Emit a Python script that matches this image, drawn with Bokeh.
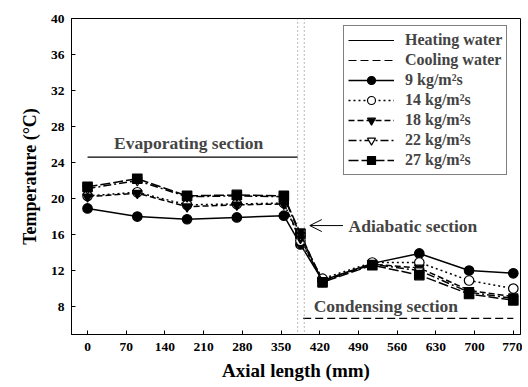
from bokeh.plotting import figure
from bokeh.models import Label, Arrow, OpenHead, Span, Legend, LegendItem, FixedTicker
from bokeh.embed import file_html
from bokeh.resources import INLINE

x = [0, 90, 180, 270, 355, 385, 425, 515, 600, 690, 770]
t9 = [18.9, 18.0, 17.7, 17.9, 18.1, 14.9, 10.9, 12.8, 13.9, 12.0, 11.7]
t14 = [20.3, 20.7, 19.3, 19.4, 19.5, 15.3, 11.1, 12.9, 12.9, 10.9, 10.0]
t18 = [20.2, 20.6, 19.1, 19.3, 19.4, 15.6, 10.8, 12.7, 12.3, 9.8, 9.1]
t22 = [21.1, 22.0, 20.2, 20.3, 20.2, 15.9, 10.9, 12.7, 12.0, 9.6, 8.9]
t27 = [21.3, 22.2, 20.3, 20.4, 20.3, 16.1, 10.7, 12.6, 11.5, 9.4, 8.7]
heat_x = [0, 380]
heat_y = [24.6, 24.6]
cool_x = [390, 770]
cool_y = [6.7, 6.7]
x_ticks = [0, 70, 140, 210, 280, 350, 420, 490, 560, 630, 700, 770]
y_ticks = [8, 12, 16, 20, 24, 28, 32, 36, 40]

FONT = "Liberation Serif"

p = figure(width=522, height=386, x_range=(-29, 783), y_range=(4.9, 40),
           output_backend="svg", toolbar_location=None,
           min_border_left=71, min_border_right=2, min_border_top=18, min_border_bottom=52)
p.grid.visible = False
p.outline_line_color = "black"
p.outline_line_width = 1

for ax in (p.xaxis[0], p.yaxis[0]):
    ax.major_label_text_font = FONT
    ax.major_label_text_font_style = "bold"
    ax.major_label_text_font_size = "13.5px"
    ax.major_label_text_color = "black"
    ax.axis_label_text_font = FONT
    ax.axis_label_text_font_style = "bold"
    ax.axis_label_text_color = "black"
    ax.major_tick_in = 4
    ax.major_tick_out = 0
    ax.minor_tick_line_color = None
    ax.axis_line_color = "black"
    ax.major_tick_line_color = "black"

p.xaxis[0].ticker = FixedTicker(ticks=x_ticks)
p.yaxis[0].ticker = FixedTicker(ticks=y_ticks)
p.xaxis[0].axis_label = "Axial length (mm)"
p.yaxis[0].axis_label = "Temperature (°C)"
p.xaxis[0].axis_label_text_font_size = "19px"
p.yaxis[0].axis_label_text_font_size = "18px"
p.xaxis[0].major_label_standoff = 8
p.yaxis[0].major_label_standoff = 7
p.xaxis[0].axis_label_standoff = 6
p.yaxis[0].axis_label_standoff = 8

# section separators
p.add_layout(Span(location=380, dimension="height", line_color="#777777", line_dash="1 3", line_width=1))
p.add_layout(Span(location=392, dimension="height", line_color="#777777", line_dash="1 3", line_width=1))

rh = p.line(heat_x, heat_y, line_color="black", line_width=1.2)
rc = p.line(cool_x, cool_y, line_color="black", line_width=1.2, line_dash="8 4")

series = [
    ("9 kg/m²s", t9, "solid", "circle", "black"),
    ("14 kg/m²s", t14, "2 3", "circle", "white"),
    ("18 kg/m²s", t18, "6 3", "inverted_triangle", "black"),
    ("22 kg/m²s", t22, "8 3 2 3", "inverted_triangle", "white"),
    ("27 kg/m²s", t27, "10 3", "square", "black"),
]
items = [LegendItem(label="Heating water", renderers=[rh]),
         LegendItem(label="Cooling water", renderers=[rc])]
for lab, ys, dash, mk, fill in series:
    rl = p.line(x, ys, line_color="black", line_width=1.5, line_dash=dash)
    rs = p.scatter(x, ys, marker=mk, size=9.5, line_color="black", fill_color=fill, line_width=1.2)
    items.append(LegendItem(label=lab, renderers=[rl, rs]))

leg = Legend(items=items, location=(272, 159))
leg.label_text_font = FONT
leg.label_text_font_style = "bold"
leg.label_text_font_size = "16px"
leg.label_height = 20
leg.glyph_height = 20
leg.glyph_width = 46
leg.spacing = 0
leg.padding = 4
leg.margin = 0
leg.label_standoff = 11
leg.border_line_color = "black"
leg.border_line_width = 1
p.add_layout(leg, "center")

p.add_layout(Label(x=183, y=26.2, text="Evaporating section", text_font=FONT, text_font_style="bold",
                   text_font_size="17.5px", text_align="center", text_baseline="middle"))
p.add_layout(Label(x=472, y=17.0, text="Adiabatic section", text_font=FONT, text_font_style="bold",
                   text_font_size="17.5px", text_align="left", text_baseline="middle"))
p.add_layout(Label(x=409, y=8.1, text="Condensing section", text_font=FONT, text_font_style="bold",
                   text_font_size="17.5px", text_align="left", text_baseline="middle"))
p.add_layout(Arrow(x_start=462, y_start=17.0, x_end=402, y_end=17.0, line_width=1, line_color="black",
                   end=OpenHead(size=12, line_width=1, line_color="black")))

open("out.html", "w").write(file_html(p, INLINE))
